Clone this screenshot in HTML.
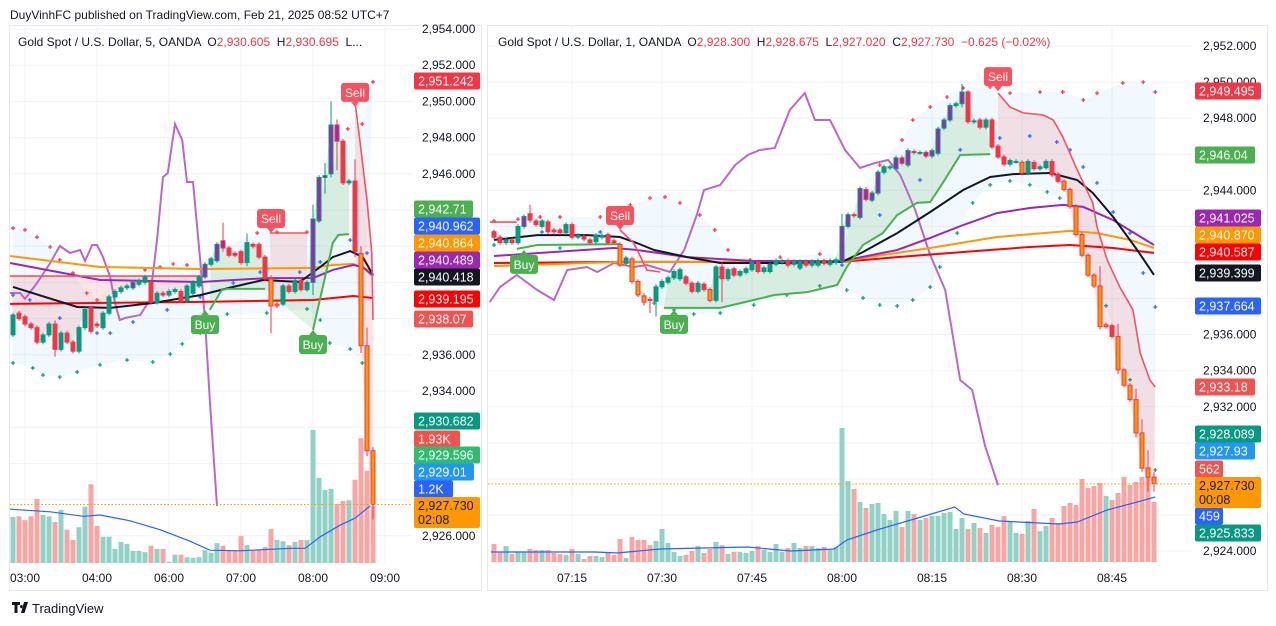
<!DOCTYPE html>
<html><head><meta charset="utf-8"><style>
html,body{margin:0;padding:0;background:#fff;}
svg{display:block;font-family:"Liberation Sans",sans-serif;}
.pre{white-space:pre;}
</style></head><body>
<svg id="chart" width="1276" height="626" viewBox="0 0 1276 626" xmlns="http://www.w3.org/2000/svg">
<defs>
<clipPath id="clipL"><rect x="10" y="25" width="402" height="538"/></clipPath>
<clipPath id="clipR"><rect x="488" y="25" width="704" height="538"/></clipPath>
</defs>
<rect x="0" y="0" width="1276" height="626" fill="#ffffff"/>
<text x="10" y="19" font-size="12" fill="#131722">DuyVinhFC published on TradingView.com, Feb 21, 2025 08:52 UTC+7</text>
<rect x="9.5" y="25.5" width="472" height="565" fill="none" stroke="#e6e8ee"/>
<rect x="487.5" y="25.5" width="780" height="565" fill="none" stroke="#e6e8ee"/>
<g id="gL" clip-path="url(#clipL)"></g>
<g id="gR" clip-path="url(#clipR)"></g>
<g id="axes"></g>
<text class="pre" x="18" y="46" font-size="12" fill="#131722">Gold Spot / U.S. Dollar, 5, OANDA  O<tspan fill="#f23645">2,930.605</tspan>  H<tspan fill="#f23645">2,930.695</tspan>  L...</text>
<text class="pre" x="498" y="46" font-size="12" fill="#131722">Gold Spot / U.S. Dollar, 1, OANDA  O<tspan fill="#f23645">2,928.300</tspan>  H<tspan fill="#f23645">2,928.675</tspan>  L<tspan fill="#f23645">2,927.020</tspan>  C<tspan fill="#f23645">2,927.730</tspan>  <tspan fill="#f23645">−0.625 (−0.02%)</tspan></text>
<g>
<path d="M12 602h8v3h-2.5v8h-3v-8H12z M21.5 605a1.6 1.6 0 1 0 0.01 0z M24 602h4l-3.5 11h-3.5z" fill="#131722"/>
<text x="32" y="613" font-size="13" fill="#131722">TradingView</text>
</g>
</svg>
<script>
// ---------- LEFT (5 min) DATA ----------
const leftOpen=[2937.1,2938.3,2938.1,2937.7,2937.5,2936.7,2937.1,2937.7,2936.3,2937.2,2936.7,2936.2,2937.5,2938.6,2937.7,2937.5,2938.3,2939.2,2939.5,2939.7,2939.7,2939.9,2940.0,2940.0,2938.9,2939.4,2939.3,2939.5,2939.5,2939.0,2939.4,2939.8,2940.3,2941.0,2941.2,2942.3,2941.9,2941.6,2941.7,2941.1,2942.1,2942.1,2941.4,2940.2,2938.7,2938.8,2939.8,2939.5,2940.1,2939.6,2940.0,2943.4,2945.8,2946.0,2948.7,2947.8,2945.5,2945.6,2941.6,2936.5,2930.7];
const leftClose=[2938.2,2938.0,2937.7,2937.5,2936.7,2937.1,2937.7,2936.3,2937.2,2936.7,2936.2,2937.5,2938.5,2937.3,2937.6,2938.3,2939.2,2939.5,2939.7,2939.8,2940.0,2940.1,2940.3,2938.9,2939.4,2939.3,2939.5,2939.6,2939.0,2939.8,2940.0,2940.3,2941.0,2941.3,2942.1,2941.9,2941.5,2941.5,2941.1,2942.2,2942.0,2941.4,2940.2,2938.7,2938.8,2939.8,2939.5,2940.1,2939.6,2940.0,2943.5,2945.8,2945.9,2948.7,2947.8,2945.5,2945.6,2941.7,2936.5,2930.7,2927.73];
const leftBodyType="nnnnnnnnnnnnnnnnnnnnpnnnnnnnnnnnpnppnpnnnnnoonnnnnpppppnnnooo";
const leftWicks={7:[2937.9,2935.9],35:[2943.3,2941.7],39:[2942.7,2940.9],43:[2940.4,2937.2],50:[2944.3,2939.3],52:[2946.6,2944.9],53:[2950.0,2945.8],54:[2949.0,2946.2],57:[2946.8,2941.4],58:[2942.0,2936.1],59:[2937.5,2930.4],60:[2930.9,2926.9]};
const leftVolume=[0.72,0.73,0.67,0.73,1.0,0.75,0.73,0.64,0.83,0.52,0.36,0.56,0.88,1.23,0.58,0.41,0.41,0.22,0.33,0.30,0.19,0.19,0.17,0.27,0.22,0.22,0.02,0.13,0.13,0.09,0.08,0.09,0.2,0.16,0.31,0.27,0.2,0.2,0.42,0.28,0.2,0.2,0.25,0.53,0.36,0.34,0.28,0.33,0.36,0.36,2.08,1.33,1.14,1.16,0.92,0.97,0.98,1.3,1.95,1.44,0.89];
const leftVolMA=[[-0.5,0.84],[6.2,0.8],[11.7,0.73],[14.5,0.75],[19.5,0.66],[24.5,0.52],[29.5,0.34],[32.8,0.2],[37.8,0.19],[46.2,0.23],[48.7,0.23],[51.2,0.41],[54.5,0.59],[57,0.7],[59.5,0.89]];
const leftEmaBlack=[[0,2939.75],[10.7,2938.64],[16.2,2938.59],[23.3,2938.86],[31.2,2939.3],[36.7,2939.75],[41.7,2940.13],[47.8,2940.02],[51.2,2940.85],[53.3,2941.4],[56.2,2941.73],[58.3,2941.4],[60,2940.41]];
const leftMaPurple=[[-0.5,2941.07],[14.5,2940.13],[31.2,2940.02],[42.3,2940.24],[50,2940.24],[53.3,2940.69],[56.7,2940.96],[58.3,2940.85],[60,2940.35]];
const leftMaOrange=[[-0.5,2941.46],[14.5,2940.85],[31.2,2940.74],[50,2940.8],[53.3,2940.96],[56.7,2941.02],[60,2940.57]];
const leftMaRed=[[-0.5,2938.81],[31.2,2938.92],[50,2939.03],[56.7,2939.25],[60,2939.14]];
const leftTrailSell=[[[-0.5,2940.35],[31.2,2940.35]],[[42.8,2942.73],[49,2942.73]],[[57,2949.97],[57.8,2947.87],[59,2944.55],[59.8,2941.62],[60,2937.92]]];
const leftTrailBuy=[[[32.8,2938.48],[34.8,2939.58],[35.7,2939.64],[42,2939.64]],[[50,2937.37],[53.3,2942.18],[54.2,2942.62],[56,2942.67]]];
const leftOsc=[[-0.5,53.4],[1.2,53.4],[2,52.2],[4,55.4],[6.2,59.4],[7.8,62.8],[9.5,61.4],[11.2,62],[12,59.8],[13.2,63],[14,63],[15,60.6],[16.2,56.6],[17,51.4],[17.8,48],[18.7,48.4],[21.2,49],[22.8,52],[24,64],[25,76.6],[25.8,77.4],[27,87.2],[28.2,84],[29,75.6],[30,75.6],[31.2,60],[32,48],[32.8,32],[34,10.8]];
const leftUpperDots=[[0,2943.0],[2,2942.9],[4,2942.5],[6.2,2941.96],[7.8,2941.24],[10,2940.52],[12.3,2939.41],[14,2939.03],[22,2940.69],[24.5,2940.85],[26.7,2941.02],[29,2940.96],[40.7,2942.73],[44,2942.78],[49,2942.78],[55.8,2948.48],[58.2,2948.75],[60,2951.07]];
const leftLowerDots=[[0,2935.55],[3.3,2935.27],[5,2934.88],[7.8,2934.77],[10.7,2935.05],[14.5,2935.44],[19,2935.71],[23.3,2935.6],[26.2,2936.04],[28.2,2936.6],[31.2,2937.2],[35.7,2938.25],[42.3,2938.31],[49,2938.53],[51.2,2937.92],[52.8,2936.65],[56.2,2936.32],[58.2,2935.55]];
const leftMidDots=[[0,2939.3],[2.8,2939.03],[7.8,2938.03],[14,2937.2],[16.2,2937.2],[20,2937.81],[25.7,2938.48],[31.2,2939.19],[36.7,2939.97],[41.2,2940.57],[47.8,2940.57],[51.2,2941.13],[56.2,2942.34],[59,2941.62]];
const leftSignals=[[57,2949.7,'Sell'],[43,2942.73,'Sell'],[32,2938.47,'Buy'],[50,2937.37,'Buy']];
const leftTimeTicks=[[2,'03:00'],[14,'04:00'],[26,'06:00'],[38,'07:00'],[50,'08:00'],[62,'09:00']];
const leftPriceTicks=[2954,2952,2950,2948,2946,2936,2934,2926];

// ---------- RIGHT (1 min) DATA ----------
const rightOpen=[2941.7,2941.4,2941.1,2941.25,2941.1,2942.0,2942.7,2942.3,2942.0,2942.25,2941.8,2941.8,2941.65,2942.1,2941.4,2941.45,2941.25,2941.15,2941.4,2941.55,2941.2,2941.0,2939.95,2940.2,2938.95,2938.15,2937.95,2937.85,2938.65,2938.9,2939.15,2939.1,2939.2,2938.85,2938.4,2938.8,2938.5,2937.9,2939.75,2939.1,2939.65,2939.3,2939.45,2939.6,2940.0,2939.5,2939.5,2939.9,2940.0,2940.1,2939.9,2939.7,2940.05,2939.85,2939.85,2940.1,2939.9,2940.0,2940.05,2942.0,2942.65,2942.5,2944.05,2943.45,2943.85,2945.0,2945.25,2945.2,2945.8,2945.4,2946.15,2946.1,2946.1,2945.9,2946.05,2947.45,2947.9,2948.7,2948.8,2949.45,2947.8,2947.9,2947.5,2947.9,2946.45,2945.85,2945.45,2945.6,2945.55,2944.95,2945.55,2945.2,2945.25,2945.6,2944.9,2944.5,2944.05,2943.1,2941.55,2940.4,2939.3,2938.7,2936.45,2936.5,2935.9,2934.05,2933.2,2932.4,2930.55,2928.6,2928.1];
const rightClose=[2941.4,2941.1,2941.25,2941.1,2942.0,2942.55,2942.35,2942.1,2942.3,2941.7,2941.7,2941.65,2942.1,2941.4,2941.5,2941.3,2941.1,2941.5,2941.5,2941.1,2941.1,2939.85,2940.25,2938.95,2938.2,2937.8,2937.9,2938.65,2938.95,2939.15,2939.5,2939.6,2938.85,2938.4,2938.85,2938.5,2937.9,2939.75,2939.1,2939.6,2939.3,2939.5,2939.65,2940.0,2939.5,2939.7,2939.9,2940.1,2940.1,2939.85,2940.05,2940.05,2939.85,2940.05,2940.1,2939.95,2940.1,2940.15,2942.0,2942.65,2942.6,2944.1,2943.5,2943.85,2945.0,2945.3,2945.3,2945.8,2945.5,2946.2,2946.1,2946.1,2945.9,2946.2,2947.4,2947.9,2948.7,2948.8,2949.45,2947.8,2947.85,2947.5,2947.9,2946.4,2945.85,2945.45,2945.65,2945.6,2944.95,2945.6,2945.2,2945.3,2945.6,2944.85,2944.5,2944.05,2943.1,2941.55,2940.4,2939.3,2938.7,2936.45,2936.55,2935.9,2934.05,2933.2,2932.4,2930.55,2928.6,2928.1,2927.73];
const rightBodyType="nnnnnpnnnnnnnnnnnnnnnonooonnnnnnnnnnonnnnnnnnnnnnnnnnnnnnnpppppppnnpppnnpppppnpnnnnnnnnnonnnnnnoooooooonoooooooo";
const rightWicks={6:[2943.2,2942.2],25:[2938.3,2937.6],26:[2938.1,2937.2],27:[2938.8,2937.0],38:[2940.0,2937.8],58:[2942.7,2939.9],78:[2949.9,2948.6],101:[2939.8,2936.3],104:[2936.6,2933.8],107:[2933.0,2930.3],108:[2931.3,2928.4],109:[2929.6,2927.3],110:[2928.4,2927.3]};
const rightVolume=[18,10,16,8,10,10,13,12,12,12,9,8,7,13,8,3,6,6,5,9,7,23,4,25,22,22,17,21,33,19,10,6,7,11,16,9,13,20,17,8,10,10,9,11,16,12,10,18,10,14,19,14,16,16,14,15,12,15,134,81,73,60,54,58,59,48,42,51,35,51,48,42,44,46,46,49,50,33,44,33,39,34,29,37,35,46,40,29,28,41,53,31,36,44,39,56,59,57,83,74,76,79,66,62,69,85,77,80,85,95,60];
const rightVolMA=[[-0.5,10],[16.8,10],[20.5,9],[27.7,13],[42.2,15],[49.5,11],[56.7,13],[58.8,22],[63.8,32],[71.2,45],[76.8,55],[78.3,48],[84.2,41],[94.2,38],[97.2,40],[102.2,52],[107.2,60],[110.2,65]];
const rightEmaBlack=[[0,2941.25],[7.2,2941.52],[15.5,2941.52],[21,2941.41],[23.8,2941.08],[26.7,2940.69],[32.2,2940.3],[37.7,2939.97],[48.8,2939.97],[58,2940.03],[61.5,2940.58],[67.2,2941.63],[72.7,2942.8],[78.2,2944.02],[82.7,2944.74],[86.5,2944.9],[92.7,2944.96],[97.2,2944.57],[99.8,2943.85],[103.2,2942.52],[107.2,2940.69],[110,2939.31]];
const rightMaPurple=[[0,2940.36],[10,2940.58],[20,2940.8],[23.8,2940.69],[32.2,2940.3],[43.3,2940.08],[58,2940.08],[67.2,2940.69],[72.7,2941.36],[78.2,2942.08],[83.8,2942.74],[89.3,2943.02],[94.8,2943.19],[98.2,2943.08],[103.2,2942.35],[110,2940.97]];
const rightMaOrange=[[0,2939.8],[21,2940.03],[58,2940.03],[61.5,2940.25],[72.7,2940.8],[83.8,2941.41],[96,2941.75],[100.5,2941.63],[106,2941.25],[110,2940.8]];
const rightMaRed=[[0,2939.97],[21,2940.03],[58,2940.03],[67.2,2940.3],[78.2,2940.58],[89.3,2940.86],[96,2940.97],[103.2,2940.8],[110,2940.53]];
const rightTrailSell=[[[-0.7,2942.24],[3.8,2942.24]],[[21,2941.8],[23.3,2941.08],[25.5,2939.58],[27.7,2939.47]],[[84,2949.39],[86,2948.62],[88.2,2948.29],[91.5,2948.18],[93.2,2947.9],[94.8,2946.96],[97.2,2945.13],[99.8,2943.3],[100.5,2941.97],[102.2,2940.14],[104.3,2938.64],[106.5,2937.37],[107.7,2934.98],[109.3,2933.49],[110.2,2933.1]]];
const rightTrailBuy=[[[3.8,2940.75],[7.2,2940.97],[21,2941.02]],[[28.3,2937.48],[37.7,2937.48],[43.3,2937.92],[46.7,2938.2],[52.2,2938.36],[57.2,2938.75],[58.8,2939.75],[61.5,2940.97],[64.8,2941.63],[67.2,2942.63],[70.5,2943.3],[72.7,2943.35],[74.8,2944.41],[77.7,2945.96],[82.7,2946.01]]];
const rightOsc=[[-0.7,51.6],[1,54.6],[3.8,57],[7.2,54],[10,52],[12.2,58],[15.5,58.6],[17.2,57.6],[20,59.4],[23.3,58.6],[25.5,59],[29.3,57.6],[31.7,62],[33.8,69],[35,74],[37.7,75],[40.2,79],[42.3,81],[44.3,82],[46.8,82.4],[49.3,90],[51.8,93.4],[53.5,88],[56,88],[58.5,82],[61,78.4],[63.5,79.4],[65.7,80],[67.7,77],[70.2,70],[72.7,61],[75.2,54],[77.7,36],[79.7,34],[81.8,23],[84,15]];
const rightUpperDots=[[0,2942.3],[4,2942.4],[7.7,2942.52],[11,2942.52],[17.7,2942.52],[22.7,2943.19],[26,2943.57],[28.5,2943.63],[31,2943.3],[34.3,2942.63],[36.8,2941.8],[39,2940.69],[42.7,2940.14],[47.7,2940.3],[54.3,2940.47],[58,2940.47],[61,2944.02],[64.3,2945.4],[68,2946.79],[69.8,2947.9],[72.7,2948.62],[75.5,2949.17],[78.2,2949.67],[82.7,2949.73],[86,2949.39],[91,2949.45],[94.8,2949.45],[98.2,2949.01],[100.5,2949.39],[104.8,2949.95],[108.2,2950.0],[110.2,2949.45]];
const rightLowerDots=[[0,2940.97],[11,2940.8],[21,2940.69],[26.7,2937.75],[30,2937.37],[33.3,2937.14],[37.7,2937.2],[43.3,2937.64],[48.8,2938.2],[54.3,2938.7],[58.8,2938.47],[61.5,2938.03],[64.3,2937.64],[67.2,2937.59],[69.8,2937.92],[72.7,2938.64],[74.3,2939.75],[77.2,2941.63],[79.8,2943.3],[82.7,2944.3],[86,2944.52],[89.3,2944.3],[92.2,2943.91],[94.3,2943.57],[98,2941.2],[102,2937.6],[106,2933.5],[110.2,2928.5]];
const rightMidDots=[[0,2941.69],[8,2941.69],[17.7,2941.69],[37.7,2939.2],[51,2939.7],[58,2939.86],[64.3,2942.63],[71,2944.57],[77.7,2946.24],[84.3,2946.9],[89.3,2947.01],[93.8,2946.68],[96,2946.24],[98.2,2945.29],[100.5,2944.41],[103.2,2942.8],[106,2941.63],[108.2,2939.42],[110.2,2937.53]];
const rightSignals=[[84,2949.5,'Sell'],[21,2941.8,'Sell'],[5,2940.7,'Buy'],[30,2937.37,'Buy']];
const rightTimeTicks=[[13,'07:15'],[28,'07:30'],[43,'07:45'],[58,'08:00'],[73,'08:15'],[88,'08:30'],[103,'08:45']];
const rightPriceTicks=[2952,2950,2948,2944,2936,2934,2932,2924];

// ---------- SCALES ----------
const xL=i=>13+6*i, yL=p=>29+(2954-p)*18.1, vL=v=>563-v*64;
const xR=i=>494+6*i, yR=p=>46+(2952-p)*18.04, vR=v=>562-v*1;
const yOsc=v=>560-v*5;
const NS='http://www.w3.org/2000/svg';
function mk(tag,attrs,parent){const e=document.createElementNS(NS,tag);for(const k in attrs)e.setAttribute(k,attrs[k]);parent.appendChild(e);return e;}
const svg=document.getElementById('chart');
const axes=document.getElementById('axes');

function pts(arr,X,Y){return arr.map(a=>X(a[0]).toFixed(1)+','+Y(a[1]).toFixed(1)).join(' ');}

function drawPanel(g,P){
  const {X,Y,V,open,close,types,wicks,vol,volMA,ema,pur,ora,red,sellTr,buyTr,osc,up,lo,mid,sig,tt,pt,x0,x1,greenRange,pinkRanges}=P;
  for(let p=P.pMin;p<=P.pMax;p+=2){const l=mk('line',{x1:x0,x2:x1,y1:Y(p),y2:Y(p),stroke:'#f0f3fa','stroke-width':1},g);
    
    }
  tt.forEach(t=>{const l=mk('line',{x1:X(t[0]),x2:X(t[0]),y1:25,y2:563,stroke:'#f0f3fa','stroke-width':1},g);
    
    });
  const bb=mk('polygon',{points:pts(up,X,Y)+' '+pts(lo.slice().reverse(),X,Y),fill:'#2196f3','fill-opacity':0.06},g);
  
  
  const gp=[];for(let i=greenRange[0];i<=greenRange[1];i++)gp.push(X(i)+','+Y(Math.max(open[i],close[i])));
  const trailAll=[].concat(...buyTr.filter(s=>s[s.length-1][0]>=greenRange[0]));
  const gf=mk('polygon',{points:gp.join(' ')+' '+pts(trailAll.slice().reverse(),X,Y),fill:'#4caf50','fill-opacity':0.16},g);
  
  
  pinkRanges.forEach((r,k)=>{const seg=sellTr[r[2]];const pp=[];for(let i=r[0];i<=r[1];i++)pp.push(X(i)+','+Y(r[3]?Math.max(open[i],close[i]):Math.min(open[i],close[i])));
    const pf=mk('polygon',{points:pts(seg,X,Y)+' '+pp.reverse().join(' '),fill:'#f23645','fill-opacity':0.13},g);
    
    });
  vol.forEach((v,i)=>{const upc=close[i]>=open[i];const r=mk('rect',{x:X(i)-2.5,y:V(v),width:5,height:V(0)-V(v),fill:upc?'#92d2c6':'#f6a6a3'},g);
    
    });
  const vm=mk('polyline',{points:pts(volMA,X,V),fill:'none',stroke:'#2962ff','stroke-width':1.2},g);
  
  
  const os=mk('polyline',{points:pts(osc,X,yOsc),fill:'none',stroke:'#ba68c8','stroke-width':2},g);
  
  
  [[up,'#f23645','upper-dot'],[lo,'#089981','lower-dot'],[mid,'#2962ff','mid-dot']].forEach(d=>{d[0].forEach(a=>{
    const c=mk('path',{d:`M${X(a[0])-2},${Y(a[1])}h4M${X(a[0])},${Y(a[1])-2}v4`,stroke:d[1],'stroke-width':1.2},g);
    
    });});
  [[red,'#ff0000','ma-red'],[ora,'#ff9800','ma-orange'],[pur,'#9c27b0','ma-purple'],[ema,'#131722','ema-black']].forEach(m=>{
    const l=mk('polyline',{points:pts(m[0],X,Y),fill:'none',stroke:m[1],'stroke-width':2},g);
    
    });
  sellTr.forEach(s=>{const l=mk('polyline',{points:pts(s,X,Y),fill:'none',stroke:'#f7525f','stroke-width':1.6},g);
    
    });
  buyTr.forEach(s=>{const l=mk('polyline',{points:pts(s,X,Y),fill:'none',stroke:'#4caf50','stroke-width':2},g);
    
    });
  open.forEach((o,i)=>{const c=close[i];const upc=c>=o;const col=upc?'#089981':'#f23645';
    const w=wicks[i]||[Math.max(o,c)+0.12,Math.min(o,c)-0.12];
    const t=types[i];const fill=t==='p'?'#9c27b0':t==='o'?'#ff9800':col;const stroke=t==='o'?'#f23645':col;
    const wl=mk('line',{x1:X(i),x2:X(i),y1:Y(w[0]),y2:Y(w[1]),stroke:stroke,'stroke-width':1},g);
    
    
    const top=Y(Math.max(o,c)),bh=Math.max(1,Math.abs(Y(o)-Y(c)));
    const b=mk('rect',{x:X(i)-2,y:top,width:4,height:bh,fill:fill,stroke:stroke,'stroke-width':1},g);
    
    });
  sig.forEach(s=>{const x=X(s[0]),y=Y(s[1]);const sell=s[2]==='Sell';const col=sell?'#f7525f':'#4caf50';
    const by=sell?y-24:y+5;
    const grp=mk('g',{},g);
    
    
    mk('rect',{x:x-14,y:by,width:28,height:19,rx:3,fill:col},grp);
    mk('path',{d:sell?`M${x-4},${by+19}L${x},${y}L${x+4},${by+19}Z`:`M${x-4},${by}L${x},${y}L${x+4},${by}Z`,fill:col},grp);
    const tx=mk('text',{x:x,y:by+14,'font-size':12,fill:'#fff','text-anchor':'middle'},grp);tx.textContent=s[2];});
  const cl=mk('line',{x1:x0,x2:x1,y1:Y(close[close.length-1]),y2:Y(close[close.length-1]),stroke:'#ff9800','stroke-dasharray':'1.5,2','stroke-width':1},g);
  
  
  pt.forEach(p=>{const t=mk('text',{x:P.tickX,y:Y(p)+4,'font-size':12,fill:'#131722'},axes);t.textContent=p.toLocaleString('en-US',{minimumFractionDigits:3});
    
    });
  tt.forEach(a=>{const t=mk('text',{x:X(a[0]),y:582,'font-size':12,fill:'#131722','text-anchor':'middle'},axes);t.textContent=a[1];
    
    });
}

drawPanel(document.getElementById('gL'),{X:xL,Y:yL,V:vL,open:leftOpen,close:leftClose,types:leftBodyType,wicks:leftWicks,vol:leftVolume,volMA:leftVolMA,ema:leftEmaBlack,pur:leftMaPurple,ora:leftMaOrange,red:leftMaRed,sellTr:leftTrailSell,buyTr:leftTrailBuy,osc:leftOsc,up:leftUpperDots,lo:leftLowerDots,mid:leftMidDots,sig:leftSignals,tt:leftTimeTicks,pt:leftPriceTicks,x0:10,x1:412,pMin:2926,pMax:2954,tickX:422,greenRange:[33,56],pinkRanges:[[0,31,0,1],[43,49,1,1],[57,60,2,0]]});
drawPanel(document.getElementById('gR'),{X:xR,Y:yR,V:vR,open:rightOpen,close:rightClose,types:rightBodyType,wicks:rightWicks,vol:rightVolume,volMA:rightVolMA,ema:rightEmaBlack,pur:rightMaPurple,ora:rightMaOrange,red:rightMaRed,sellTr:rightTrailSell,buyTr:rightTrailBuy,osc:rightOsc,up:rightUpperDots,lo:rightLowerDots,mid:rightMidDots,sig:rightSignals,tt:rightTimeTicks,pt:rightPriceTicks,x0:488,x1:1192,pMin:2924,pMax:2952,tickX:1203,greenRange:[29,82],pinkRanges:[[84,110,2,0]]});

// ---------- PRICE SCALE LABELS ----------
const leftScaleLabels=[['2,951.242','#f23645',81,66],['2,942.71','#4caf50',209,59],['2,940.962','#2962ff',226,66],['2,940.864','#ff9800',243,66],['2,940.489','#9c27b0',260,66],['2,940.418','#131722',277,66],['2,939.195','#ff0000',299,66],['2,938.07','#f05350',319,59],['2,930.682','#089981',421,66],['1.93K','#ef5350',439,46],['2,929.596','#2dbd6e',455,66],['2,929.01','#2196f3',472,60],['1.2K','#2962ff',489,39]];
const rightScaleLabels=[['2,949.495','#f23645',91,66],['2,946.04','#4caf50',155,60],['2,941.025','#9c27b0',218,66],['2,940.870','#ff9800',235,66],['2,940.587','#ff0000',252,66],['2,939.399','#131722',273,66],['2,937.664','#2962ff',306,66],['2,933.18','#f05350',387,60],['2,928.089','#089981',434,66],['2,927.93','#2196f3',451,60],['562','#f05350',469,28],['459','#2962ff',516,28],['2,925.833','#089981',533,66]];
function scaleLabels(list,x){list.forEach(l=>{const grp=mk('g',{},axes);
  
  
  mk('rect',{x:x,y:l[2]-8.5,width:l[3],height:17,rx:2,fill:l[1]},grp);
  const t=mk('text',{x:x+4,y:l[2]+4.5,'font-size':12.5,fill:'#fff'},grp);t.textContent=l[0];});}
scaleLabels(leftScaleLabels,414);
scaleLabels(rightScaleLabels,1195);
function lastBox(x,y,price,timer,name){const grp=mk('g',{},axes);
  
  
  mk('rect',{x:x,y:y,width:66,height:31,rx:2,fill:'#ff9800'},grp);
  const t1=mk('text',{x:x+4,y:y+13,'font-size':12.5,fill:'#131722'},grp);t1.textContent=price;
  const t2=mk('text',{x:x+4,y:y+27,'font-size':12.5,fill:'#131722'},grp);t2.textContent=timer;}
lastBox(414,497,'2,927.730','02:08','left-last-price-label');
lastBox(1195,477,'2,927.730','00:08','right-last-price-label');
</script>
</body></html>
